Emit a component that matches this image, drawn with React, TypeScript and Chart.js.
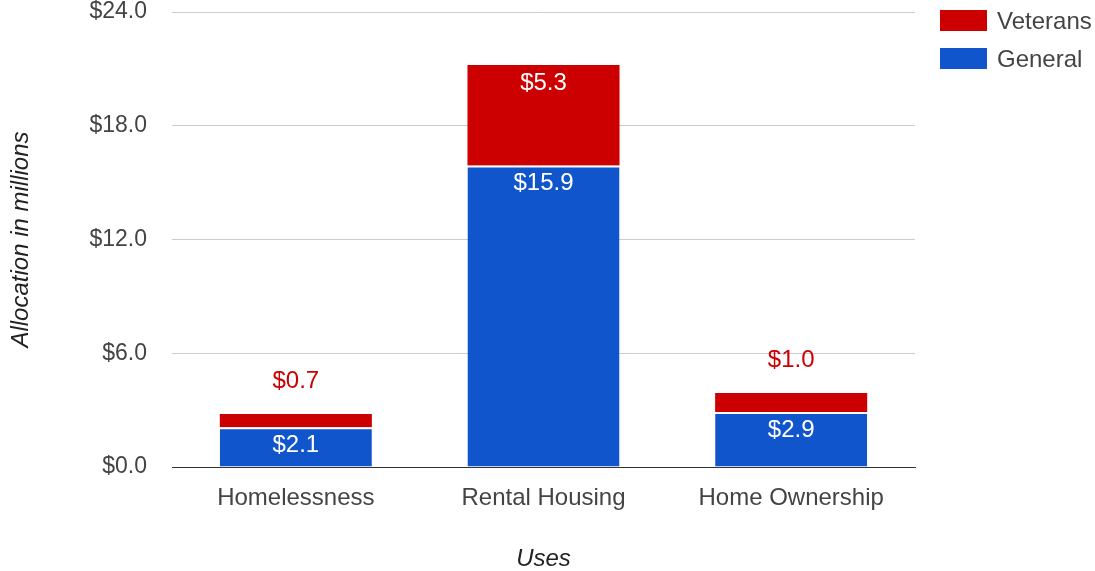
import React, { useEffect, useRef } from "react";
import { Chart, registerables } from "chart.js";

Chart.register(...registerables);

const categories = ["Homelessness", "Rental Housing", "Home Ownership"];
const generalValues = [2.1, 15.9, 2.9];
const veteransValues = [0.7, 5.3, 1.0];
const yTicks = [0, 6, 12, 18, 24];

const RED = "#cc0000";
const BLUE = "#1155cc";
const FONT = "Arial, 'Liberation Sans', sans-serif";
const FS = 24;

const valueLabels = {
  id: "valueLabels",
  afterDatasetsDraw(chart: any) {
    const ctx = chart.ctx;
    ctx.save();
    ctx.font = `${FS}px ${FONT}`;
    ctx.textAlign = "center";
    ctx.textBaseline = "middle";
    chart.data.datasets.forEach((ds: any, di: number) => {
      const meta = chart.getDatasetMeta(di);
      meta.data.forEach((bar: any, i: number) => {
        const v = ds.data[i];
        const h = Math.abs(bar.base - bar.y);
        const txt = "$" + v.toFixed(1);
        if (h > 30) {
          ctx.fillStyle = "#ffffff";
          ctx.fillText(txt, bar.x, bar.y + 18);
        } else {
          ctx.fillStyle = ds.backgroundColor;
          ctx.fillText(txt, bar.x, bar.y - 33);
        }
      });
    });
    ctx.restore();
  },
};

const customLegend = {
  id: "customLegend",
  afterDraw(chart: any) {
    const ctx = chart.ctx;
    const area = chart.chartArea;
    ctx.save();
    ctx.font = `${FS}px ${FONT}`;
    ctx.textAlign = "left";
    ctx.textBaseline = "middle";
    const items = [...chart.data.datasets].reverse();
    items.forEach((ds: any, i: number) => {
      const x = area.right + 25;
      const y = 10 + i * 38;
      ctx.fillStyle = ds.backgroundColor;
      ctx.fillRect(x, y, 47, 21);
      ctx.fillStyle = "#444444";
      ctx.fillText(ds.label, x + 57, y + 12);
    });
    ctx.restore();
  },
};

export default function App() {
  const ref = useRef<HTMLCanvasElement | null>(null);
  useEffect(() => {
    if (!ref.current) return;
    const chart = new Chart(ref.current, {
      type: "bar",
      data: {
        labels: categories,
        datasets: [
          {
            label: "General",
            data: generalValues,
            backgroundColor: BLUE,
            borderColor: "#ffffff",
            borderWidth: { top: 2, left: 0, right: 0, bottom: 0 },
            borderSkipped: false,
            categoryPercentage: 1,
            barPercentage: 0.614,
          },
          {
            label: "Veterans",
            data: veteransValues,
            backgroundColor: RED,
            borderWidth: 0,
            categoryPercentage: 1,
            barPercentage: 0.614,
          },
        ],
      },
      options: {
        responsive: false,
        animation: false,
        layout: { padding: { left: 0, right: 180, top: 12, bottom: 0 } },
        plugins: {
          legend: { display: false },
          tooltip: { enabled: false },
        },
        scales: {
          x: {
            stacked: true,
            grid: { display: false, drawTicks: false },
            border: { display: true, color: "#333333", width: 1 },
            ticks: {
              padding: 17,
              color: "#444444",
              font: { family: FONT, size: FS },
            },
            title: {
              display: true,
              text: "Uses",
              color: "#222222",
              font: { family: FONT, size: FS, style: "italic" },
              padding: { top: 0, bottom: -3 },
            },
            afterFit(scale: any) {
              scale.height = 104;
            },
          },
          y: {
            stacked: true,
            min: 0,
            max: 24,
            afterBuildTicks(scale: any) {
              scale.ticks = yTicks.map((v) => ({ value: v }));
            },
            grid: {
              drawTicks: false,
              color: (c: any) => (c.tick && c.tick.value === 0 ? "#333333" : "#cccccc"),
            },
            border: { display: false },
            ticks: {
              padding: 25,
              color: "#444444",
              font: { family: FONT, size: 23 },
              callback: (v: any) => "$" + Number(v).toFixed(1),
            },
            title: {
              display: true,
              text: "Allocation in millions",
              color: "#222222",
              font: { family: FONT, size: FS, style: "italic" },
              padding: { top: 7, bottom: 0 },
            },
            afterFit(scale: any) {
              scale.width = 172;
              scale.paddingTop = 0;
              scale.paddingBottom = 0;
            },
          },
        },
      },
      plugins: [valueLabels, customLegend],
    });
    return () => chart.destroy();
  }, []);
  return (
    <div style={{ position: "fixed", left: 0, top: 0, width: 1095, height: 571, background: "#fff" }}>
      <canvas ref={ref} width={1095} height={571} />
    </div>
  );
}
